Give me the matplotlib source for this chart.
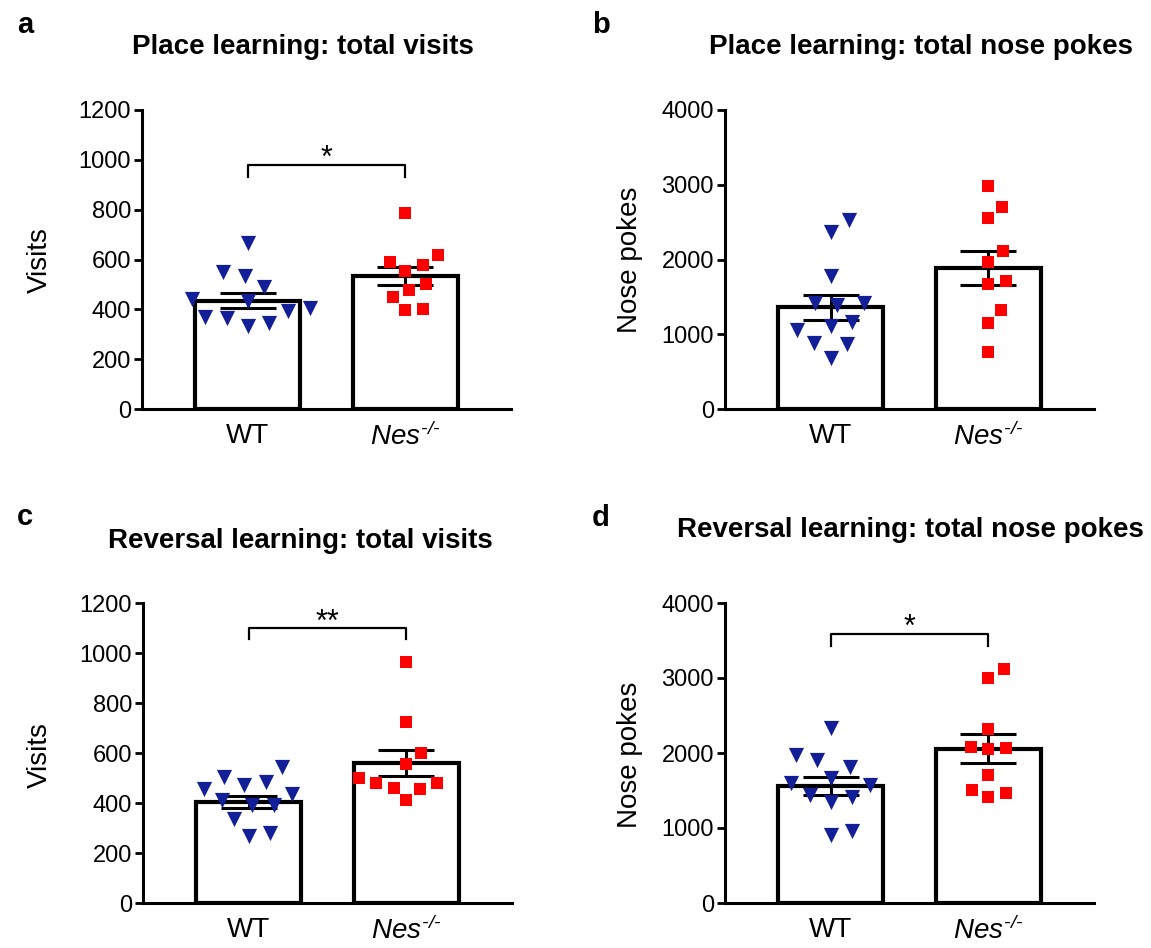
import numpy as np
import matplotlib.pyplot as plt

plt.rcParams['font.family'] = ['Liberation Sans', 'DejaVu Sans']
plt.rcParams['mathtext.fontset'] = 'custom'
plt.rcParams['mathtext.rm'] = 'Liberation Sans:italic'
plt.rcParams['mathtext.it'] = 'Liberation Sans:italic'

groups = ['WT', r'$Nes^{\text{-/-}}$']

# individual animals
place_visits_wt = [665, 551, 534, 491, 440, 433, 404, 393, 370, 364, 346, 333]
place_visits_nes = [785, 618, 589, 578, 555, 502, 478, 448, 401, 397]
place_pokes_wt = [2529, 2372, 1780, 1414, 1414, 1391, 1168, 1111, 1057, 879, 870, 678]
place_pokes_nes = [2988, 2707, 2551, 2118, 1971, 1717, 1672, 1325, 1147, 767]
rev_visits_wt = [545, 504, 484, 474, 457, 437, 411, 391, 391, 337, 280, 270]
rev_visits_nes = [963, 725, 601, 558, 502, 482, 480, 462, 457, 411]
rev_pokes_wt = [2328, 1971, 1904, 1816, 1668, 1601, 1579, 1436, 1414, 1347, 954, 913]
rev_pokes_nes = [3118, 3006, 2319, 2074, 2070, 2047, 1703, 1503, 1472, 1413]

# bar heights (mean) and error bars (SEM)
place_visits_mean = [435, 533]
place_visits_sem = [30, 37]
place_pokes_mean = [1360, 1890]
place_pokes_sem = [170, 225]
rev_visits_mean = [405, 560]
rev_visits_sem = [25, 52]
rev_pokes_mean = [1560, 2060]
rev_pokes_sem = [120, 190]

# significance: (label, bracket height, tick drop)
place_visits_sig = ('*', 980, 50)
place_pokes_sig = None
rev_visits_sig = ('**', 1100, 45)
rev_pokes_sig = ('*', 3590, 160)

W, H = 1151, 948
BLUE = '#131f96'
RED = '#ff0000'


def px(x, y):
    return x / W, 1 - y / H


def swarm_x(ax, x0, values, d):
    # simple beeswarm in pixel space
    trans = ax.transData
    pts = trans.transform(np.column_stack([np.full(len(values), x0), values]))
    ys = pts[:, 1]
    offs = np.zeros(len(values))
    placed = []
    for i in np.argsort(ys):
        y = ys[i]
        cands = [0.0]
        for cx, cy in placed:
            dy = y - cy
            if abs(dy) < d:
                dx = np.sqrt(d ** 2 - dy ** 2)
                cands += [cx + dx, cx - dx]
        cands.sort(key=abs)
        for c in cands:
            if all((c - cx) ** 2 + (y - cy) ** 2 >= d ** 2 - 1e-6 for cx, cy in placed):
                offs[i] = c
                placed.append((c, y))
                break
    return trans.inverted().transform(np.column_stack([pts[:, 0] + offs, ys]))[:, 0]


def panel(rect, wt, nes, mean, sem, ymax, step, sig):
    ax = fig.add_axes(rect)
    ax.set_xlim(0.332, 2.668)
    ax.set_ylim(0, ymax)
    ax.bar([1, 2], mean, width=0.665, color='white', edgecolor='black',
           linewidth=3, zorder=2)
    ax.errorbar([1, 2], mean, yerr=sem, fmt='none', ecolor='black',
                elinewidth=2.2, capsize=20, capthick=2.2, zorder=3)
    ax.scatter(swarm_x(ax, 1, wt, 22), wt, marker='v', s=120, color=BLUE,
               linewidths=0, zorder=4, clip_on=False)
    ax.scatter(swarm_x(ax, 2, nes, 18), nes, marker='s', s=72, color=RED,
               linewidths=0, zorder=4, clip_on=False)
    if sig is not None:
        label, yb, drop = sig
        ax.plot([1, 1, 2, 2], [yb - drop, yb, yb, yb - drop], color='black',
                lw=1.6, clip_on=False)
        ax.annotate(label, (1.5, yb), xytext=(0, 4), textcoords='offset points',
                    ha='center', va='center', fontsize=22)
    ax.set_yticks(np.arange(0, ymax + 1, step))
    ax.set_xticks([1, 2])
    ax.set_xticklabels(groups, fontsize=20)
    ax.tick_params(axis='x', length=0, pad=10)
    ax.tick_params(axis='y', length=6, width=2, labelsize=17, pad=2)
    for s in ['top', 'right']:
        ax.spines[s].set_visible(False)
    for s in ['left', 'bottom']:
        ax.spines[s].set_linewidth(2.2)
    return ax


fig = plt.figure(figsize=(W / 100, H / 100), dpi=100)

aw, ah = 369 / W, 299 / H
panel([142 / W, 1 - 409 / H, aw, ah], place_visits_wt, place_visits_nes,
      place_visits_mean, place_visits_sem, 1200, 200, place_visits_sig)
panel([725 / W, 1 - 409 / H, aw, ah], place_pokes_wt, place_pokes_nes,
      place_pokes_mean, place_pokes_sem, 4000, 1000, place_pokes_sig)
panel([143 / W, 1 - 903 / H, aw, 300 / H], rev_visits_wt, rev_visits_nes,
      rev_visits_mean, rev_visits_sem, 1200, 200, rev_visits_sig)
panel([725 / W, 1 - 903 / H, aw, 300 / H], rev_pokes_wt, rev_pokes_nes,
      rev_pokes_mean, rev_pokes_sem, 4000, 1000, rev_pokes_sig)

titles = [('Place learning: total visits', 303, 47),
          ('Place learning: total nose pokes', 921, 47),
          ('Reversal learning: total visits', 300, 541),
          ('Reversal learning: total nose pokes', 910, 530)]
for t, x, y in titles:
    fig.text(*px(x, y), t, ha='center', va='center', fontsize=20, fontweight='bold')

for t, x, y in [('a', 25, 25), ('b', 601, 25), ('c', 25, 517), ('d', 601, 518)]:
    fig.text(*px(x, y), t, ha='center', va='center', fontsize=21, fontweight='bold')

for t, x, y in [('Visits', 40, 260), ('Nose pokes', 630, 260),
                ('Visits', 40, 755), ('Nose pokes', 630, 755)]:
    fig.text(*px(x, y), t, ha='center', va='center', rotation=90, fontsize=20)

fig.savefig('out.png', dpi=100)
